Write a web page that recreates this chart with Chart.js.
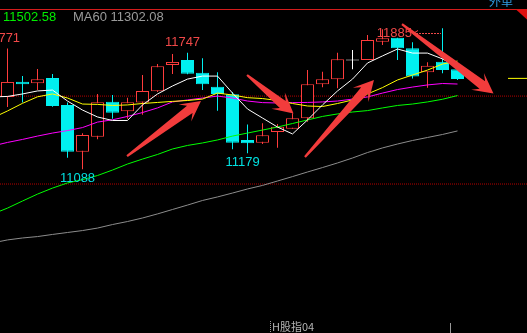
<!DOCTYPE html>
<html>
<head>
<meta charset="utf-8">
<script src="https://cdn.jsdelivr.net/npm/chart.js@4/dist/chart.umd.min.js"></script>
<style>
  html, body { margin: 0; padding: 0; background: #000; overflow: hidden; }
  canvas { display: block; }
</style>
</head>
<body>
<canvas id="kline" width="527" height="333"></canvas>
<script>
/*
  Daily K-line with MA5/10/20/30/60, drawn the way the trading terminal does it:
  red hollow = up day, solid cyan = down day, white cross = doji.

  WHY floating bars: Chart.js v4 has no candlestick type, so every candle is two
  bar datasets on the same x (grouped: false) -> a 1px wick [low, high] behind
  a body [open, close]. Everything goes through the chart's own x/y scales.
*/

// ---- OHLC, one entry per trading day (left -> right) ----
const opens  = [11497, 11583, 11574, 11604, 11452, 11188, 11272, 11470, 11416, 11465, 11529, 11678, 11706, 11634, 11555, 11512, 11254, 11238, 11299, 11318, 11376, 11569, 11597, 11706, 11706, 11809, 11832, 11772, 11636, 11696, 11653];
const highs  = [11771, 11615, 11655, 11627, 11465, 11292, 11514, 11508, 11493, 11621, 11683, 11740, 11747, 11716, 11636, 11525, 11342, 11348, 11344, 11405, 11649, 11640, 11747, 11762, 11847, 11880, 11832, 11806, 11693, 11885, 11666];
const lows   = [11440, 11465, 11536, 11442, 11154, 11088, 11258, 11374, 11374, 11397, 11525, 11627, 11625, 11536, 11419, 11201, 11179, 11231, 11210, 11318, 11357, 11552, 11546, 11653, 11706, 11791, 11706, 11602, 11549, 11631, 11593];
const closes = [11582, 11569, 11597, 11446, 11188, 11282, 11467, 11408, 11467, 11531, 11670, 11695, 11628, 11569, 11514, 11238, 11235, 11280, 11329, 11376, 11569, 11597, 11710, 11706, 11819, 11829, 11772, 11612, 11674, 11649, 11598];

// Moving averages. First value is the day just left of the window so the
// lines enter from the left edge like in the terminal.
const ma5  = [11497, 11500, 11514, 11531, 11536, 11474, 11423, 11384, 11364, 11364, 11452, 11514, 11559, 11598, 11615, 11615, 11519, 11429, 11378, 11327, 11288, 11367, 11452, 11531, 11598, 11689, 11729, 11768, 11745, 11745, 11712, 11666];
const ma10 = [11378, 11418, 11461, 11498, 11514, 11491, 11457, 11455, 11449, 11452, 11460, 11466, 11472, 11477, 11485, 11519, 11508, 11493, 11488, 11477, 11460, 11446, 11443, 11460, 11480, 11514, 11550, 11593, 11621, 11649, 11683, 11700];
const ma20 = [11220, 11240, 11257, 11276, 11293, 11307, 11324, 11355, 11368, 11387, 11409, 11435, 11469, 11480, 11491, 11502, 11491, 11474, 11465, 11463, 11465, 11466, 11469, 11474, 11485, 11497, 11519, 11539, 11553, 11565, 11573, 11570];
const ma30 = [10835, 10869, 10909, 10948, 10982, 11011, 11030, 11053, 11084, 11118, 11146, 11172, 11203, 11223, 11237, 11254, 11276, 11293, 11310, 11327, 11347, 11367, 11387, 11401, 11412, 11420, 11435, 11449, 11457, 11469, 11484, 11505];
const ma60 = [10672, 10689, 10700, 10708, 10720, 10731, 10742, 10756, 10776, 10793, 10813, 10836, 10861, 10886, 10912, 10932, 10954, 10977, 10997, 11022, 11047, 11073, 11098, 11124, 11152, 11183, 11209, 11231, 11251, 11268, 11285, 11305];

// Dotted levels, last-price tick, header readouts.
const refLevels = [11502, 11005];
const lastPrice = 11602;
const headerText = ["11502.58", "MA60 11302.08"];
const footerText = "H股指04";
const cornerText = "外单";

// Labelled extremes (candle index) and hand-drawn arrows [fromBar, fromPrice, toBar, toPrice].
const highMarks = [0, 12];
const lowMarks = [5, 16];
const peakMark = 29;
const arrows = [
  [7.97, 11163, 12.9, 11474],
  [15.97, 11621, 19.07, 11404],
  [19.83, 11158, 24.43, 11593],
  [26.3, 11909, 32.4, 11517],
];

// Terminal palette.
const COLORS = {
  up: "#ff3c3c",
  down: "#00f0f0",
  doji: "#ffffff",
  ma: ["#ffffff", "#ffff00", "#ff00ff", "#00ff00", "#8c8c8c"],
  level: "#b40000",
  frame: "#d41c1c",
  arrow: "#f23c3c",
  label: "#f04848",
  lowLabel: "#00e0e0",
  header: ["#00ee00", "#9a9a9a"],
  footer: "#b4b4b4",
  corner: "#2f9de6",
};

const W = 527, H = 333;
const BAR_PX = 15;                    // one trading day = 15px
const X_MIN = -0.5, X_MAX = X_MIN + W / BAR_PX;
const Y_MIN = 10163, Y_MAX = 12045;
const PRICE_PER_PX = (Y_MAX - Y_MIN) / H;

// ---- datasets ----
const candleColor = (i) =>
  opens[i] === closes[i] ? COLORS.doji : closes[i] > opens[i] ? COLORS.up : COLORS.down;

const wicks = opens.map((_, i) => ({ x: i, y: [lows[i], highs[i]] }));
const bodies = opens.map((o, i) => {
  const c = closes[i];
  // a doji still needs a 1px body so the cross shows
  return o === c ? { x: i, y: [o - PRICE_PER_PX / 2, o + PRICE_PER_PX / 2] } : { x: i, y: [o, c] };
});

function maLine(values, color) {
  return {
    type: "line",
    data: values.map((v, k) => ({ x: k - 1, y: v })),
    borderColor: color,
    borderWidth: 1,
    pointRadius: 0,
    tension: 0,
    fill: false,
    order: 0,
  };
}

const levelLines = refLevels.map((lvl) => ({
  type: "line",
  data: [{ x: X_MIN, y: lvl }, { x: X_MAX, y: lvl }],
  borderColor: COLORS.level,
  borderWidth: 1,
  borderDash: [1, 1],
  pointRadius: 0,
  order: 5,
}));

const datasets = [
  ...[ma5, ma10, ma20, ma30, ma60].map((v, k) => maLine(v, COLORS.ma[k])),
  {
    type: "line",
    data: [{ x: X_MAX - 19 / BAR_PX, y: lastPrice }, { x: X_MAX, y: lastPrice }],
    borderColor: "#ffff00",
    borderWidth: 1,
    pointRadius: 0,
    order: 0,
  },
  {
    type: "bar",
    data: bodies,
    grouped: false,
    barThickness: 13,
    inflateAmount: 0,
    borderWidth: 1,
    borderSkipped: false,
    borderColor: opens.map((_, i) => candleColor(i)),
    backgroundColor: opens.map((_, i) => (closes[i] > opens[i] ? "#000000" : candleColor(i))),
    order: 1,
  },
  {
    type: "bar",
    data: wicks,
    grouped: false,
    barThickness: 1,
    inflateAmount: 0,
    borderWidth: 0,
    backgroundColor: opens.map((_, i) => candleColor(i)),
    order: 2,
  },
  ...levelLines,
];

// ---- overlay: labels, arrows, panel frame ----
function drawArrow(ctx, x0, y0, x1, y1) {
  const len = Math.hypot(x1 - x0, y1 - y0);
  const ux = (x1 - x0) / len, uy = (y1 - y0) / len;
  const nx = -uy, ny = ux;
  const at = (back, side) => [x1 - ux * back + nx * side, y1 - uy * back + ny * side];
  const pts = [
    [x0 + nx * 1.1, y0 + ny * 1.1],
    at(14, 4.6), at(20, 10.5), [x1, y1], at(20, -10.5), at(14, -4.6),
    [x0 - nx * 1.1, y0 - ny * 1.1],
  ];
  ctx.beginPath();
  pts.forEach(([px, py], k) => (k ? ctx.lineTo(px, py) : ctx.moveTo(px, py)));
  ctx.closePath();
  ctx.fill();
}

const overlay = {
  id: "overlay",
  afterDatasetsDraw(chart) {
    const { ctx, scales: { x, y } } = chart;
    ctx.save();

    // extremes
    ctx.font = '13px "Liberation Sans", Arial, sans-serif';
    ctx.textAlign = "center";
    ctx.textBaseline = "middle";
    ctx.fillStyle = COLORS.label;
    highMarks.forEach((i) => ctx.fillText(String(highs[i]), x.getPixelForValue(i) - 5, y.getPixelForValue(highs[i]) - 10));
    ctx.fillStyle = COLORS.lowLabel;
    lowMarks.forEach((i) => ctx.fillText(String(lows[i]), x.getPixelForValue(i) - 5, y.getPixelForValue(lows[i]) + 9));

    // window high: text to the left with a dashed pointer
    const px = x.getPixelForValue(peakMark) - 1.5;
    const py = Math.round(y.getPixelForValue(highs[peakMark]) + 5) + 0.5;
    ctx.fillStyle = COLORS.label;
    ctx.textAlign = "right";
    ctx.fillText(String(highs[peakMark]), px - 29, py);
    ctx.strokeStyle = COLORS.label;
    ctx.lineWidth = 1;
    ctx.beginPath();
    ctx.moveTo(px - 23, py - 3); ctx.lineTo(px - 28, py); ctx.lineTo(px - 23, py + 3);
    ctx.stroke();
    ctx.setLineDash([2, 1]);
    ctx.beginPath();
    ctx.moveTo(px - 25, py); ctx.lineTo(px, py);
    ctx.stroke();
    ctx.setLineDash([]);

    // arrows
    ctx.fillStyle = COLORS.arrow;
    arrows.forEach(([b0, p0, b1, p1]) =>
      drawArrow(ctx, x.getPixelForValue(b0), y.getPixelForValue(p0), x.getPixelForValue(b1), y.getPixelForValue(p1)));

    // panel frame + header
    ctx.fillStyle = "#000";
    ctx.fillRect(0, 0, W, 9);
    ctx.fillStyle = COLORS.frame;
    ctx.fillRect(0, 9, W, 1);
    ctx.fillStyle = "#e01010";
    ctx.beginPath();
    ctx.moveTo(516, 9.5); ctx.lineTo(W, 9.5); ctx.lineTo(W, 19.5);
    ctx.closePath();
    ctx.fill();

    ctx.font = '12px "Noto Sans CJK SC", sans-serif';
    ctx.textAlign = "left";
    ctx.textBaseline = "alphabetic";
    ctx.fillStyle = COLORS.corner;
    ctx.fillText(cornerText, 489, 6);

    ctx.font = '13px "Liberation Sans", Arial, sans-serif';
    ctx.textBaseline = "middle";
    ctx.fillStyle = COLORS.header[0];
    ctx.fillText(headerText[0], 3, 17);
    ctx.fillStyle = COLORS.header[1];
    ctx.fillText(headerText[1], 73, 17);

    // footer
    ctx.font = '11px "Noto Sans CJK SC", sans-serif';
    ctx.fillStyle = COLORS.footer;
    ctx.fillText(footerText, 272, 327);
    ctx.strokeStyle = "#9a9a9a";
    ctx.setLineDash([1, 1]);
    ctx.beginPath();
    ctx.moveTo(270.5, 321); ctx.lineTo(270.5, H);
    ctx.stroke();
    ctx.setLineDash([]);
    ctx.beginPath();
    ctx.moveTo(450.5, 323); ctx.lineTo(450.5, H);
    ctx.stroke();

    ctx.restore();
  },
};

new Chart(document.getElementById("kline"), {
  type: "bar",
  data: { datasets },
  options: {
    responsive: false,
    animation: false,
    devicePixelRatio: 1,
    layout: { padding: 0 },
    plugins: { legend: { display: false }, tooltip: { enabled: false } },
    scales: {
      x: { type: "linear", display: false, offset: false, min: X_MIN, max: X_MAX },
      y: { type: "linear", display: false, min: Y_MIN, max: Y_MAX },
    },
  },
  plugins: [overlay],
});
</script>
</body>
</html>
